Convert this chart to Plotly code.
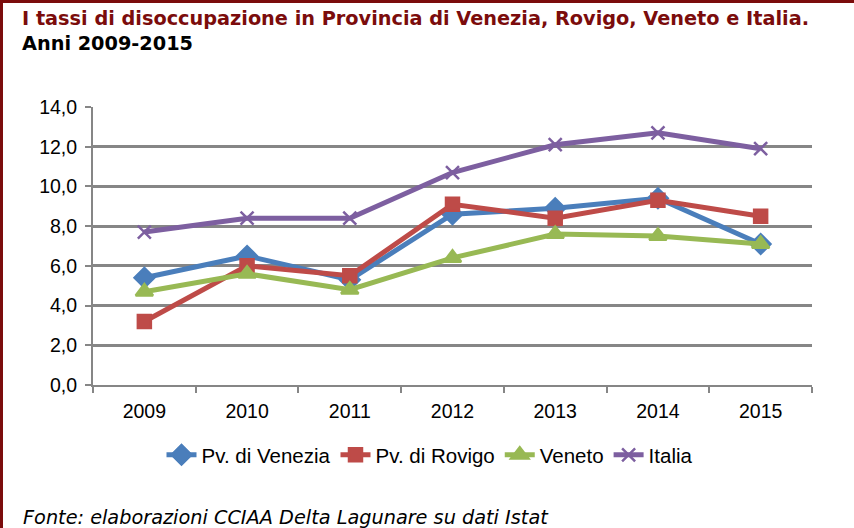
import plotly.graph_objects as go

years = ["2009", "2010", "2011", "2012", "2013", "2014", "2015"]
venezia = [5.4, 6.5, 5.3, 8.6, 8.9, 9.4, 7.1]
rovigo = [3.2, 6.0, 5.5, 9.1, 8.4, 9.3, 8.5]
veneto = [4.7, 5.6, 4.8, 6.4, 7.6, 7.5, 7.1]
italia = [7.7, 8.4, 8.4, 10.7, 12.1, 12.7, 11.9]

series = [
    ("Pv. di Venezia", venezia, "#4A7EBB", "diamond", 15),
    ("Pv. di Rovigo", rovigo, "#BE4B48", "square", 13),
    ("Veneto", veneto, "#98B954", "triangle-up", 15),
    ("Italia", italia, "#7D5FA0", "x-thin", 13),
]

fig = go.Figure()
for name, vals, col, sym, sz in series:
    fig.add_trace(go.Scatter(
        x=years, y=vals, name=name, mode="lines+markers",
        line=dict(color=col, width=5),
        marker=dict(symbol=sym, size=sz, color=col,
                    line=dict(color=col, width=2.5)),
    ))

L, R, T, B = 93, 42, 107, 143
W, H = 854, 528
pw, ph = W - L - R, H - T - B

def px(x):
    return (x - L) / pw

def py(y):
    return (H - B - y) / ph

fig.update_layout(
    width=W, height=H,
    margin=dict(l=L, r=R, t=T, b=B),
    paper_bgcolor="white", plot_bgcolor="white",
    font=dict(family="Liberation Sans, Arial", size=19, color="black"),
    separators=",.",
    showlegend=True,
    legend=dict(orientation="h", x=px(430), xanchor="center", y=py(455), yanchor="middle",
                font=dict(size=20.5), tracegroupgap=0,
                bgcolor="rgba(0,0,0,0)"),
    xaxis=dict(type="category", range=[-0.5, 6.5], showgrid=False,
               showline=True, linecolor="#868686", linewidth=2,
               ticks="outside", tickson="boundaries", ticklen=6, tickcolor="#868686",
               tickwidth=2, tickfont=dict(size=19.5), ticklabelstandoff=8),
    yaxis=dict(range=[0, 14], dtick=2, tickformat=".1f", showgrid=True,
               gridcolor="#868686", gridwidth=2.5, zeroline=False,
               showline=True, linecolor="#868686", linewidth=2,
               ticks="outside", ticklen=6, tickcolor="#868686", tickwidth=2,
               tickfont=dict(size=19.5), ticklabelstandoff=4),
    shapes=[
        dict(type="line", xref="paper", yref="paper", x0=px(1.5), x1=px(1.5), y0=py(0), y1=py(H),
             line=dict(color="#7B0C0C", width=3)),
        dict(type="line", xref="paper", yref="paper", x0=px(0), x1=px(W), y0=py(1.5), y1=py(1.5),
             line=dict(color="#7B0C0C", width=3)),
    ],
    annotations=[
        dict(text="I tassi di disoccupazione in Provincia di Venezia, Rovigo, Veneto e Italia.",
             xref="paper", yref="paper", x=px(20), y=py(19), xanchor="left", yanchor="middle",
             showarrow=False, font=dict(family="DejaVu Sans", size=19.3, color="#7B0C0C", weight="bold")),
        dict(text="Anni 2009-2015",
             xref="paper", yref="paper", x=px(20), y=py(43), xanchor="left", yanchor="middle",
             showarrow=False, font=dict(family="DejaVu Sans", size=19.3, color="black", weight="bold")),
        dict(text="<i>Fonte: elaborazioni CCIAA Delta Lagunare su dati Istat</i>",
             xref="paper", yref="paper", x=px(21), y=py(517), xanchor="left", yanchor="middle",
             showarrow=False, font=dict(family="DejaVu Sans", size=19.3, color="black")),
    ],
)

fig.write_html("out.html", config={"displayModeBar": False},
               post_script="document.body.style.margin='0px';document.body.style.overflow='hidden';")
